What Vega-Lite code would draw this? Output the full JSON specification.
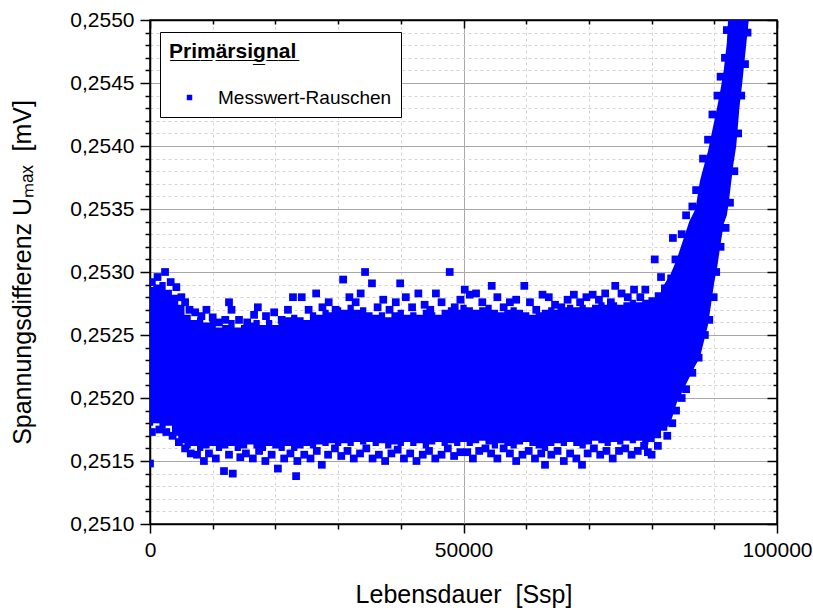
{
  "$schema": "https://vega.github.io/schema/vega-lite/v6.json",
  "autosize": {"type": "none"},
  "width": 627,
  "height": 504,
  "padding": {"left": 150, "top": 20, "right": 36, "bottom": 86},
  "background": "white",
  "config": {
    "font": "Liberation Sans",
    "view": {"stroke": "black", "strokeWidth": 1.5},
    "axis": {
      "domainColor": "black", "domainWidth": 1.5,
      "tickColor": "black", "tickWidth": 1.5,
      "labelColor": "black", "titleColor": "black",
      "labelFont": "Liberation Sans", "titleFont": "Liberation Sans",
      "titleFontWeight": "normal",
      "labelOverlap": false, "labelBound": false, "labelFlush": false
    }
  },
  "datasets": {
    "band": [
      {"x": 0, "lo": 0.25178, "hi": 0.25288},
      {"x": 1000, "lo": 0.25180, "hi": 0.25290},
      {"x": 2000, "lo": 0.25176, "hi": 0.25292},
      {"x": 3000, "lo": 0.25178, "hi": 0.25286},
      {"x": 4000, "lo": 0.25170, "hi": 0.25282},
      {"x": 5000, "lo": 0.25164, "hi": 0.25274},
      {"x": 6000, "lo": 0.25160, "hi": 0.25266},
      {"x": 7000, "lo": 0.25162, "hi": 0.25262},
      {"x": 8000, "lo": 0.25158, "hi": 0.25264},
      {"x": 9000, "lo": 0.25160, "hi": 0.25260},
      {"x": 10000, "lo": 0.25162, "hi": 0.25262},
      {"x": 11000, "lo": 0.25158, "hi": 0.25256},
      {"x": 12000, "lo": 0.25160, "hi": 0.25258},
      {"x": 13000, "lo": 0.25162, "hi": 0.25262},
      {"x": 14000, "lo": 0.25158, "hi": 0.25256},
      {"x": 15000, "lo": 0.25160, "hi": 0.25258},
      {"x": 16000, "lo": 0.25163, "hi": 0.25260},
      {"x": 17000, "lo": 0.25160, "hi": 0.25262},
      {"x": 18000, "lo": 0.25158, "hi": 0.25258},
      {"x": 19000, "lo": 0.25162, "hi": 0.25262},
      {"x": 20000, "lo": 0.25160, "hi": 0.25258},
      {"x": 21000, "lo": 0.25158, "hi": 0.25262},
      {"x": 22000, "lo": 0.25162, "hi": 0.25264},
      {"x": 23000, "lo": 0.25158, "hi": 0.25266},
      {"x": 24000, "lo": 0.25160, "hi": 0.25264},
      {"x": 25000, "lo": 0.25162, "hi": 0.25262},
      {"x": 26000, "lo": 0.25160, "hi": 0.25268},
      {"x": 27000, "lo": 0.25163, "hi": 0.25266},
      {"x": 28000, "lo": 0.25162, "hi": 0.25270},
      {"x": 29000, "lo": 0.25164, "hi": 0.25268},
      {"x": 30000, "lo": 0.25162, "hi": 0.25272},
      {"x": 31000, "lo": 0.25164, "hi": 0.25270},
      {"x": 32000, "lo": 0.25162, "hi": 0.25274},
      {"x": 33000, "lo": 0.25165, "hi": 0.25270},
      {"x": 34000, "lo": 0.25163, "hi": 0.25272},
      {"x": 35000, "lo": 0.25165, "hi": 0.25268},
      {"x": 36000, "lo": 0.25162, "hi": 0.25266},
      {"x": 37000, "lo": 0.25164, "hi": 0.25268},
      {"x": 38000, "lo": 0.25160, "hi": 0.25264},
      {"x": 39000, "lo": 0.25163, "hi": 0.25268},
      {"x": 40000, "lo": 0.25162, "hi": 0.25270},
      {"x": 41000, "lo": 0.25165, "hi": 0.25266},
      {"x": 42000, "lo": 0.25162, "hi": 0.25268},
      {"x": 43000, "lo": 0.25164, "hi": 0.25266},
      {"x": 44000, "lo": 0.25160, "hi": 0.25270},
      {"x": 45000, "lo": 0.25163, "hi": 0.25268},
      {"x": 46000, "lo": 0.25165, "hi": 0.25266},
      {"x": 47000, "lo": 0.25162, "hi": 0.25270},
      {"x": 48000, "lo": 0.25164, "hi": 0.25272},
      {"x": 49000, "lo": 0.25162, "hi": 0.25270},
      {"x": 50000, "lo": 0.25165, "hi": 0.25274},
      {"x": 51000, "lo": 0.25162, "hi": 0.25272},
      {"x": 52000, "lo": 0.25164, "hi": 0.25270},
      {"x": 53000, "lo": 0.25166, "hi": 0.25272},
      {"x": 54000, "lo": 0.25163, "hi": 0.25274},
      {"x": 55000, "lo": 0.25160, "hi": 0.25270},
      {"x": 56000, "lo": 0.25164, "hi": 0.25268},
      {"x": 57000, "lo": 0.25162, "hi": 0.25270},
      {"x": 58000, "lo": 0.25160, "hi": 0.25272},
      {"x": 59000, "lo": 0.25163, "hi": 0.25270},
      {"x": 60000, "lo": 0.25165, "hi": 0.25268},
      {"x": 61000, "lo": 0.25162, "hi": 0.25266},
      {"x": 62000, "lo": 0.25160, "hi": 0.25268},
      {"x": 63000, "lo": 0.25158, "hi": 0.25270},
      {"x": 64000, "lo": 0.25162, "hi": 0.25272},
      {"x": 65000, "lo": 0.25164, "hi": 0.25270},
      {"x": 66000, "lo": 0.25162, "hi": 0.25272},
      {"x": 67000, "lo": 0.25165, "hi": 0.25274},
      {"x": 68000, "lo": 0.25162, "hi": 0.25272},
      {"x": 69000, "lo": 0.25160, "hi": 0.25274},
      {"x": 70000, "lo": 0.25163, "hi": 0.25272},
      {"x": 71000, "lo": 0.25166, "hi": 0.25274},
      {"x": 72000, "lo": 0.25164, "hi": 0.25276},
      {"x": 73000, "lo": 0.25162, "hi": 0.25274},
      {"x": 74000, "lo": 0.25165, "hi": 0.25276},
      {"x": 75000, "lo": 0.25163, "hi": 0.25274},
      {"x": 76000, "lo": 0.25166, "hi": 0.25276},
      {"x": 77000, "lo": 0.25164, "hi": 0.25278},
      {"x": 78000, "lo": 0.25166, "hi": 0.25276},
      {"x": 79000, "lo": 0.25163, "hi": 0.25278},
      {"x": 80000, "lo": 0.25165, "hi": 0.25280},
      {"x": 81000, "lo": 0.25168, "hi": 0.25284},
      {"x": 82000, "lo": 0.25174, "hi": 0.25290},
      {"x": 83000, "lo": 0.25180, "hi": 0.25298}
    ],
    "tail": [
      {"x": 82000, "lo": 0.25174, "hi": 0.25290},
      {"x": 83000, "lo": 0.25180, "hi": 0.25298},
      {"x": 84000, "lo": 0.25196, "hi": 0.25310},
      {"x": 85000, "lo": 0.25206, "hi": 0.25325},
      {"x": 86000, "lo": 0.25216, "hi": 0.25340},
      {"x": 87000, "lo": 0.25226, "hi": 0.25350},
      {"x": 87700, "lo": 0.25232, "hi": 0.25372},
      {"x": 88000, "lo": 0.25238, "hi": 0.25378},
      {"x": 89000, "lo": 0.25258, "hi": 0.25396},
      {"x": 90000, "lo": 0.25292, "hi": 0.25420},
      {"x": 90500, "lo": 0.25305, "hi": 0.25432},
      {"x": 91000, "lo": 0.25322, "hi": 0.25445},
      {"x": 91500, "lo": 0.25338, "hi": 0.25460},
      {"x": 92000, "lo": 0.25345, "hi": 0.25482},
      {"x": 92300, "lo": 0.25355, "hi": 0.25510},
      {"x": 93000, "lo": 0.25384, "hi": 0.25510},
      {"x": 93500, "lo": 0.25400, "hi": 0.25510},
      {"x": 94000, "lo": 0.25430, "hi": 0.25510},
      {"x": 94500, "lo": 0.25452, "hi": 0.25510},
      {"x": 95000, "lo": 0.25476, "hi": 0.25510},
      {"x": 95500, "lo": 0.25500, "hi": 0.25510}
    ],
    "points": [
      {"x": 300, "y": 0.25292}, {"x": 1200, "y": 0.25296}, {"x": 2400, "y": 0.25300}, {"x": 3300, "y": 0.25292},
      {"x": 4200, "y": 0.25288}, {"x": 5000, "y": 0.25280}, {"x": 5600, "y": 0.25276}, {"x": 6300, "y": 0.25270},
      {"x": 7200, "y": 0.25268}, {"x": 8200, "y": 0.25265}, {"x": 9000, "y": 0.25270}, {"x": 10000, "y": 0.25264},
      {"x": 11000, "y": 0.25260}, {"x": 12000, "y": 0.25262}, {"x": 12600, "y": 0.25276}, {"x": 13000, "y": 0.25270},
      {"x": 14200, "y": 0.25262}, {"x": 15500, "y": 0.25260}, {"x": 16600, "y": 0.25266}, {"x": 17200, "y": 0.25272},
      {"x": 18500, "y": 0.25265}, {"x": 19800, "y": 0.25268}, {"x": 21000, "y": 0.25262}, {"x": 22000, "y": 0.25270},
      {"x": 22800, "y": 0.25280}, {"x": 24200, "y": 0.25280}, {"x": 25300, "y": 0.25270}, {"x": 26500, "y": 0.25283},
      {"x": 27500, "y": 0.25272}, {"x": 28500, "y": 0.25276}, {"x": 29600, "y": 0.25270}, {"x": 30800, "y": 0.25294},
      {"x": 31800, "y": 0.25280}, {"x": 32800, "y": 0.25276}, {"x": 33600, "y": 0.25283}, {"x": 34300, "y": 0.25300},
      {"x": 35400, "y": 0.25291}, {"x": 36300, "y": 0.25272}, {"x": 37200, "y": 0.25278}, {"x": 38200, "y": 0.25270},
      {"x": 39200, "y": 0.25276}, {"x": 39900, "y": 0.25291}, {"x": 40800, "y": 0.25280}, {"x": 41800, "y": 0.25272},
      {"x": 42800, "y": 0.25283}, {"x": 43800, "y": 0.25274}, {"x": 44700, "y": 0.25270}, {"x": 45600, "y": 0.25283},
      {"x": 46500, "y": 0.25276}, {"x": 47800, "y": 0.25300}, {"x": 48600, "y": 0.25272}, {"x": 49500, "y": 0.25278},
      {"x": 50200, "y": 0.25286}, {"x": 51000, "y": 0.25282}, {"x": 52000, "y": 0.25283}, {"x": 53000, "y": 0.25276},
      {"x": 54500, "y": 0.25289}, {"x": 55400, "y": 0.25280}, {"x": 56400, "y": 0.25272}, {"x": 57400, "y": 0.25276},
      {"x": 58400, "y": 0.25278}, {"x": 59700, "y": 0.25289}, {"x": 60600, "y": 0.25276}, {"x": 61600, "y": 0.25270},
      {"x": 62600, "y": 0.25282}, {"x": 63600, "y": 0.25280}, {"x": 64600, "y": 0.25274}, {"x": 65600, "y": 0.25272},
      {"x": 66600, "y": 0.25278}, {"x": 67600, "y": 0.25282}, {"x": 68600, "y": 0.25276}, {"x": 69600, "y": 0.25280},
      {"x": 70600, "y": 0.25282}, {"x": 71600, "y": 0.25278}, {"x": 72600, "y": 0.25283}, {"x": 73500, "y": 0.25276},
      {"x": 74200, "y": 0.25289}, {"x": 75200, "y": 0.25283}, {"x": 76200, "y": 0.25280}, {"x": 77200, "y": 0.25286},
      {"x": 78200, "y": 0.25280}, {"x": 79000, "y": 0.25286}, {"x": 80500, "y": 0.25310}, {"x": 81500, "y": 0.25296},
      {"x": 83400, "y": 0.25327}, {"x": 83800, "y": 0.25310}, {"x": 84800, "y": 0.25330}, {"x": 85500, "y": 0.25345},
      {"x": 86500, "y": 0.25352}, {"x": 87100, "y": 0.25365}, {"x": 88200, "y": 0.25390}, {"x": 89000, "y": 0.25405},
      {"x": 89700, "y": 0.25425}, {"x": 90500, "y": 0.25440}, {"x": 91000, "y": 0.25455}, {"x": 91700, "y": 0.25470},
      {"x": 92000, "y": 0.25492},
      {"x": 80000, "y": 0.25155}, {"x": 81000, "y": 0.25162}, {"x": 82500, "y": 0.25170}, {"x": 83300, "y": 0.25180},
      {"x": 83900, "y": 0.25190}, {"x": 84800, "y": 0.25200}, {"x": 85500, "y": 0.25207}, {"x": 86500, "y": 0.25220},
      {"x": 87500, "y": 0.25232}, {"x": 88500, "y": 0.25250}, {"x": 89200, "y": 0.25262}, {"x": 89900, "y": 0.25280},
      {"x": 90300, "y": 0.25300}, {"x": 91000, "y": 0.25320}, {"x": 91800, "y": 0.25335}, {"x": 92500, "y": 0.25355},
      {"x": 93200, "y": 0.25380}, {"x": 93800, "y": 0.25410}, {"x": 94300, "y": 0.25440}, {"x": 94900, "y": 0.25465},
      {"x": 95300, "y": 0.25490},
      {"x": 0, "y": 0.25148}, {"x": 300, "y": 0.25173}, {"x": 1500, "y": 0.25175}, {"x": 2600, "y": 0.25173},
      {"x": 3600, "y": 0.25170}, {"x": 4600, "y": 0.25165}, {"x": 5600, "y": 0.25160}, {"x": 6500, "y": 0.25156},
      {"x": 7500, "y": 0.25155}, {"x": 8600, "y": 0.25150}, {"x": 9400, "y": 0.25156}, {"x": 10500, "y": 0.25152},
      {"x": 11800, "y": 0.25142}, {"x": 12600, "y": 0.25155}, {"x": 13200, "y": 0.25140}, {"x": 14400, "y": 0.25153},
      {"x": 15300, "y": 0.25156}, {"x": 16400, "y": 0.25152}, {"x": 17400, "y": 0.25158}, {"x": 18400, "y": 0.25150},
      {"x": 19400, "y": 0.25155}, {"x": 20400, "y": 0.25144}, {"x": 21400, "y": 0.25152}, {"x": 22400, "y": 0.25156},
      {"x": 23300, "y": 0.25138}, {"x": 23500, "y": 0.25150}, {"x": 24600, "y": 0.25155}, {"x": 25600, "y": 0.25152},
      {"x": 26600, "y": 0.25158}, {"x": 27400, "y": 0.25147}, {"x": 28400, "y": 0.25155}, {"x": 29500, "y": 0.25160},
      {"x": 30500, "y": 0.25154}, {"x": 31500, "y": 0.25158}, {"x": 32500, "y": 0.25152}, {"x": 33500, "y": 0.25156},
      {"x": 34500, "y": 0.25160}, {"x": 35500, "y": 0.25152}, {"x": 36500, "y": 0.25155}, {"x": 37500, "y": 0.25150},
      {"x": 38500, "y": 0.25156}, {"x": 39500, "y": 0.25159}, {"x": 40500, "y": 0.25152}, {"x": 41500, "y": 0.25156},
      {"x": 42500, "y": 0.25150}, {"x": 43500, "y": 0.25155}, {"x": 44500, "y": 0.25158}, {"x": 45500, "y": 0.25152},
      {"x": 46500, "y": 0.25155}, {"x": 47500, "y": 0.25160}, {"x": 48500, "y": 0.25154}, {"x": 49500, "y": 0.25157},
      {"x": 50600, "y": 0.25157}, {"x": 51500, "y": 0.25152}, {"x": 52500, "y": 0.25158}, {"x": 53500, "y": 0.25160},
      {"x": 54400, "y": 0.25156}, {"x": 55400, "y": 0.25152}, {"x": 56400, "y": 0.25160}, {"x": 57400, "y": 0.25156},
      {"x": 58400, "y": 0.25150}, {"x": 59400, "y": 0.25155}, {"x": 60400, "y": 0.25158}, {"x": 61400, "y": 0.25152},
      {"x": 62400, "y": 0.25156}, {"x": 63000, "y": 0.25147}, {"x": 64000, "y": 0.25155}, {"x": 65000, "y": 0.25158},
      {"x": 66000, "y": 0.25150}, {"x": 67000, "y": 0.25156}, {"x": 68000, "y": 0.25152}, {"x": 68900, "y": 0.25147},
      {"x": 69800, "y": 0.25156}, {"x": 70800, "y": 0.25160}, {"x": 71800, "y": 0.25155}, {"x": 72800, "y": 0.25158},
      {"x": 73800, "y": 0.25152}, {"x": 74800, "y": 0.25158}, {"x": 75800, "y": 0.25160}, {"x": 76800, "y": 0.25155},
      {"x": 77800, "y": 0.25158}, {"x": 78800, "y": 0.25162}, {"x": 79400, "y": 0.25157}
    ]
  },
  "layer": [
    {
      "data": {"name": "band"},
      "mark": {"type": "area", "color": "#0000ff", "clip": true, "interpolate": "step", "opacity": 1},
      "encoding": {
        "x": {
          "field": "x", "type": "quantitative",
          "scale": {"domain": [0, 100000], "nice": false, "zero": false},
          "axis": {
            "orient": "bottom",
            "title": "Lebensdauer\u00a0 [Ssp]",
            "titleFontSize": 25, "titlePadding": 22,
            "labelFontSize": 21, "labelPadding": 6,
            "values": [0, 10000, 20000, 30000, 40000, 50000, 60000, 70000, 80000, 90000, 100000],
            "labelExpr": "datum.value % 50000 === 0 ? format(datum.value, 'd') : ''",
            "tickSize": {"condition": {"test": "datum.value % 50000 === 0", "value": 9}, "value": 5},
            "grid": true,
            "gridColor": {"condition": {"test": "datum.value % 50000 === 0", "value": "#a8a8a8"}, "value": "#d4d4d4"},
            "gridDash": {"condition": {"test": "datum.value % 50000 === 0", "value": []}, "value": [3, 3]},
            "gridWidth": 1
          }
        },
        "y": {
          "field": "lo", "type": "quantitative",
          "scale": {"domain": [0.2510, 0.2550], "nice": false, "zero": false},
          "axis": {
            "orient": "left",
            "title": "Spannungsdifferenz Uₘₐₓ\u00a0 [mV]",
            "titleFontSize": 25, "titlePadding": 34,
            "labelFontSize": 21, "labelPadding": 6,
            "values": [0.2510, 0.2511, 0.2512, 0.2513, 0.2514, 0.2515, 0.2516, 0.2517, 0.2518, 0.2519, 0.2520, 0.2521, 0.2522, 0.2523, 0.2524, 0.2525, 0.2526, 0.2527, 0.2528, 0.2529, 0.2530, 0.2531, 0.2532, 0.2533, 0.2534, 0.2535, 0.2536, 0.2537, 0.2538, 0.2539, 0.2540, 0.2541, 0.2542, 0.2543, 0.2544, 0.2545, 0.2546, 0.2547, 0.2548, 0.2549, 0.2550],
            "labelExpr": "round(datum.value * 10000) % 5 === 0 ? replace(format(datum.value, '.4f'), '.', ',') : ''",
            "tickSize": {"condition": {"test": "round(datum.value * 10000) % 5 === 0", "value": 10}, "value": 5},
            "grid": true,
            "gridColor": {"condition": {"test": "round(datum.value * 10000) % 5 === 0", "value": "#a8a8a8"}, "value": "#d4d4d4"},
            "gridDash": {"condition": {"test": "round(datum.value * 10000) % 5 === 0", "value": []}, "value": [3, 3]},
            "gridWidth": 1
          }
        },
        "y2": {"field": "hi"}
      }
    },
    {
      "data": {"name": "tail"},
      "mark": {"type": "area", "color": "#0000ff", "clip": true, "interpolate": "linear", "opacity": 1},
      "encoding": {
        "x": {"field": "x", "type": "quantitative", "axis": null},
        "y": {"field": "lo", "type": "quantitative", "axis": null},
        "y2": {"field": "hi"}
      }
    },
    {
      "data": {"name": "points"},
      "mark": {"type": "square", "size": 60, "opacity": 1, "clip": true},
      "encoding": {
        "x": {
          "field": "x", "type": "quantitative",
          "axis": {
            "orient": "top", "title": null, "labels": false, "grid": false,
            "values": [0, 10000, 20000, 30000, 40000, 50000, 60000, 70000, 80000, 90000, 100000],
            "tickSize": {"condition": {"test": "datum.value % 50000 === 0", "value": -8}, "value": -4}
          }
        },
        "y": {
          "field": "y", "type": "quantitative",
          "axis": {
            "orient": "right", "title": null, "labels": false, "grid": false,
            "values": [0.2510, 0.2511, 0.2512, 0.2513, 0.2514, 0.2515, 0.2516, 0.2517, 0.2518, 0.2519, 0.2520, 0.2521, 0.2522, 0.2523, 0.2524, 0.2525, 0.2526, 0.2527, 0.2528, 0.2529, 0.2530, 0.2531, 0.2532, 0.2533, 0.2534, 0.2535, 0.2536, 0.2537, 0.2538, 0.2539, 0.2540, 0.2541, 0.2542, 0.2543, 0.2544, 0.2545, 0.2546, 0.2547, 0.2548, 0.2549, 0.2550],
            "tickSize": {"condition": {"test": "round(datum.value * 10000) % 5 === 0", "value": -10}, "value": -4}
          }
        },
        "color": {
          "datum": "Messwert-Rauschen",
          "scale": {"range": ["#0000ff"]},
          "legend": {
            "title": "P̲r̲i̲m̲ä̲r̲s̲i̲g̲n̲a̲l̲",
            "orient": "none", "legendX": 10, "legendY": 12,
            "padding": 9, "fillColor": "white", "strokeColor": "black",
            "titleFontSize": 21, "titleFontWeight": "bold", "titleColor": "black", "titleFont": "Liberation Sans",
            "titlePadding": 26,
            "labelFontSize": 19, "labelColor": "black", "labelFont": "Liberation Sans", "labelLimit": 400,
            "symbolType": "square", "symbolSize": 30, "symbolOffset": 11, "labelOffset": 19,
            "symbolStrokeWidth": 0
          }
        }
      }
    }
  ],
  "resolve": {"axis": {"x": "independent", "y": "independent"}}
}
